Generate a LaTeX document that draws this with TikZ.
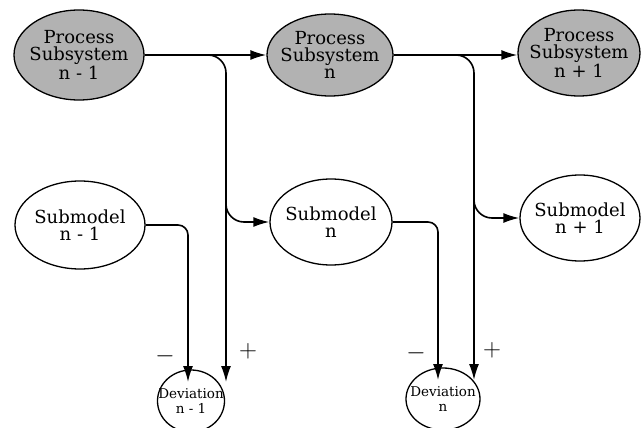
\documentclass[tikz,border=0pt]{standalone}
\usepackage{fontspec}
\setmainfont{DejaVu Serif}
\usetikzlibrary{shapes.geometric,arrows.meta}
\begin{document}
\begin{tikzpicture}[x=1pt,y=-1pt,
  blob/.style={ellipse,draw=black,line width=1.3pt,inner xsep=-8pt,inner ysep=0pt,align=center,
    font=\fontsize{18}{17}\selectfont},
  procblob/.style={blob,fill=black!30},
  devblob/.style={blob,inner xsep=-11pt,inner ysep=-2pt,font=\fontsize{13.5}{15}\selectfont},
  conn/.style={line width=1.6pt,-{Latex[length=16pt,width=10pt]}},
  sign/.style={font=\fontsize{24}{24}\selectfont,inner sep=0pt}]
\useasboundingbox (0,0) rectangle (641,428);

% process subsystems (shaded)
\node[procblob,minimum width=130pt,minimum height=90pt] (p1) at (79,55) {Process\\Subsystem\\n - 1};
\node[procblob,minimum width=126pt,minimum height=82pt] (p2) at (330,55) {Process\\Subsystem\\n};
\node[procblob,minimum width=122pt,minimum height=86pt] (p3) at (579,53) {Process\\Subsystem\\n + 1};

% submodels
\node[blob,minimum width=130pt,minimum height=88pt] (s1) at (80,225) {Submodel\\n - 1};
\node[blob,minimum width=122pt,minimum height=86pt] (s2) at (331,222) {Submodel\\n};
\node[blob,minimum width=120pt,minimum height=86pt] (s3) at (580,218) {Submodel\\n + 1};

% deviations
\node[devblob,minimum width=67pt,minimum height=62pt] (d1) at (191,401) {Deviation\\n - 1};
\node[devblob,minimum width=74pt,minimum height=62pt] (d2) at (443,399) {Deviation\\n};

% arrow end points above the deviations and branch points
\coordinate (t1l) at (188,382);
\coordinate (t1r) at (226,382);
\coordinate (t2l) at (438,380);
\coordinate (t2r) at (474,380);
\coordinate (b1) at (226,188);
\coordinate (b2) at (474,186);

% chain of process subsystems
\draw[conn] (p1.east) -- (p1.east -| p2.west);
\draw[conn] (p2.east) -- (p2.east -| p3.west);

% process outputs feeding the deviations
\draw[conn,rounded corners=18pt] (p1.east) -| (t1r);
\draw[conn,rounded corners=18pt] (p2.east) -| (t2r);

% process outputs feeding the next submodel
\draw[conn,rounded corners=18pt] (b1) |- (s2.west);
\draw[conn,rounded corners=18pt] (b2) |- (s3.west);

% submodel outputs feeding the deviations
\draw[conn,rounded corners=10pt] (s1.east) -| (t1l);
\draw[conn,rounded corners=10pt] (s2.east) -| (t2l);

% signs
\node[sign] (m1) at (165,356) {$-$};
\node[sign] (a1) at (248,351) {$+$};
\node[sign] (m2) at (416,353) {$-$};
\node[sign] (a2) at (492,350) {$+$};
\end{tikzpicture}
\end{document}
